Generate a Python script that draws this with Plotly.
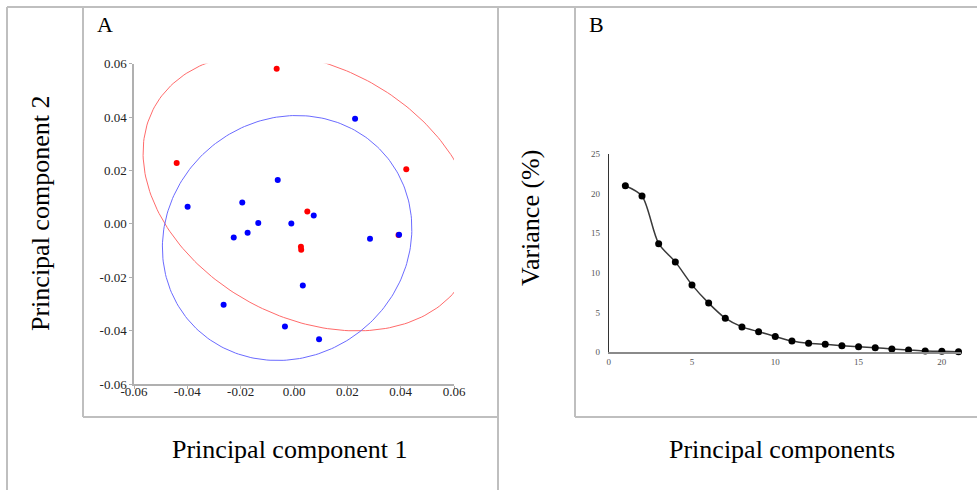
import numpy as np
import plotly.graph_objects as go

# ---------------- Data ----------------
# Panel A: PCA scores (PC1, PC2)
red_x = [-0.0065, -0.0440, 0.0421, 0.0050, 0.0026, 0.0027, 0.0392]
red_y = [0.0581, 0.0228, 0.0205, 0.0046, -0.0086, -0.0097, -0.0042]
blue_x = [0.0229, -0.0061, -0.0399, -0.0194, -0.0134, -0.0174, -0.0226,
          -0.0010, 0.0074, 0.0285, 0.0394, 0.0033, -0.0264, -0.0034, 0.0094]
blue_y = [0.0394, 0.0164, 0.0064, 0.0080, 0.0003, -0.0033, -0.0051,
          0.0001, 0.0031, -0.0056, -0.0041, -0.0231, -0.0303, -0.0385, -0.0432]
pca_ticks = [-0.06, -0.04, -0.02, 0.00, 0.02, 0.04, 0.06]

# Panel B: scree plot
components = list(range(1, 22))
variance = [21.0, 19.7, 13.7, 11.4, 8.5, 6.2, 4.3, 3.2, 2.6, 2.0, 1.42,
            1.13, 1.0, 0.84, 0.71, 0.58, 0.42, 0.29, 0.16, 0.12, 0.08]
scree_xticks = [0, 5, 10, 15, 20]
scree_yticks = [0, 5, 10, 15, 20, 25]

ELLIPSE_LEVEL = 0.90


def data_ellipse(xs, ys, level=ELLIPSE_LEVEL, n=240):
    pts = np.column_stack([xs, ys])
    m = pts.mean(axis=0)
    cov = np.cov(pts.T, ddof=1)
    vals, vecs = np.linalg.eigh(cov)
    k = np.sqrt(-2.0 * np.log(1.0 - level))
    t = np.linspace(0, 2 * np.pi, n)
    circ = np.vstack([np.cos(t), np.sin(t)])
    e = (vecs @ np.diag(np.sqrt(vals)) @ circ) * k
    return m[0] + e[0], m[1] + e[1]


W, H = 977, 490
SERIF = "Liberation Serif, Times New Roman, serif"


def px(x):
    return x / W


def py(y):
    return 1 - y / H


fig = go.Figure()

rex, rey = data_ellipse(red_x, red_y)
bex, bey = data_ellipse(blue_x, blue_y)

fig.add_trace(go.Scatter(x=rex, y=rey, mode="lines", line=dict(color="#ff6b6b", width=1),
                         xaxis="x", yaxis="y", hoverinfo="skip"))
fig.add_trace(go.Scatter(x=bex, y=bey, mode="lines", line=dict(color="#6b6bff", width=1),
                         xaxis="x", yaxis="y", hoverinfo="skip"))
fig.add_trace(go.Scatter(x=red_x, y=red_y, mode="markers",
                         marker=dict(color="#ff0000", size=6), xaxis="x", yaxis="y",
                         cliponaxis=False))
fig.add_trace(go.Scatter(x=blue_x, y=blue_y, mode="markers",
                         marker=dict(color="#0000ff", size=6), xaxis="x", yaxis="y",
                         cliponaxis=False))

fig.add_trace(go.Scatter(x=components, y=variance, mode="lines+markers",
                         line=dict(color="#3a3a3a", width=1.5, shape="spline", smoothing=0.8),
                         marker=dict(color="#000000", size=7),
                         xaxis="x2", yaxis="y2", cliponaxis=False))

# grid / table borders
bc = "#bfbfbf"
lines = [
    (7, 7, 977, 7),
    (7, 7, 7, 490),
    (83, 7, 83, 417),
    (83, 417, 498, 417),
    (498, 7, 498, 490),
    (575, 7, 575, 417),
    (575, 417, 977, 417),
]
shapes = [dict(type="line", xref="paper", yref="paper",
               x0=px(a), y0=py(b), x1=px(c), y1=py(d),
               line=dict(color=bc, width=2)) for a, b, c, d in lines]


def label(text, x, y, size, angle=0):
    return dict(text=text, x=px(x), y=py(y), xref="paper", yref="paper",
                showarrow=False, textangle=angle, xanchor="center", yanchor="middle",
                font=dict(family=SERIF, size=size, color="#000"))


annotations = [
    label("A", 105, 25, 22),
    label("B", 596, 25, 22),
    label("Principal component 2", 40, 214, 26, -90),
    label("Principal component 1", 289, 449, 26),
    label("Variance (%)", 530, 218, 26, -90),
    label("Principal components", 782, 449, 26),
]

axA = dict(range=[-0.06, 0.06], tickvals=pca_ticks,
           ticktext=[f"{v:.2f}" for v in pca_ticks],
           showgrid=False, zeroline=False, showline=True, linecolor="#b0b0b0", linewidth=1.5,
           ticks="outside", ticklen=3, tickcolor="#b0b0b0", automargin=False,
           tickfont=dict(family=SERIF, size=13, color="#222"))
axB = dict(showgrid=False, zeroline=False, showline=True, ticks="", automargin=False,
           tickfont=dict(family=SERIF, size=9, color="#555"))

fig.update_layout(
    template="none",
    width=W, height=H, autosize=False,
    margin=dict(l=0, r=0, t=0, b=0, pad=0, autoexpand=False),
    paper_bgcolor="white", plot_bgcolor="white",
    showlegend=False,
    xaxis=dict(axA, domain=[px(134), px(454)], anchor="y", ticklabelstandoff=-8),
    yaxis=dict(axA, domain=[py(384), py(63.7)], anchor="x"),
    xaxis2=dict(axB, range=[0, 21.15], tickvals=scree_xticks, domain=[px(608.7), px(961)],
                anchor="y2", linecolor="#8a8a8a", linewidth=2),
    yaxis2=dict(axB, range=[0, 25], tickvals=scree_yticks, domain=[py(352.3), py(154)],
                anchor="x2", linecolor="#333", linewidth=1, ticklabelstandoff=6),
    shapes=shapes,
    annotations=annotations,
)

fig.write_html("out.html")
